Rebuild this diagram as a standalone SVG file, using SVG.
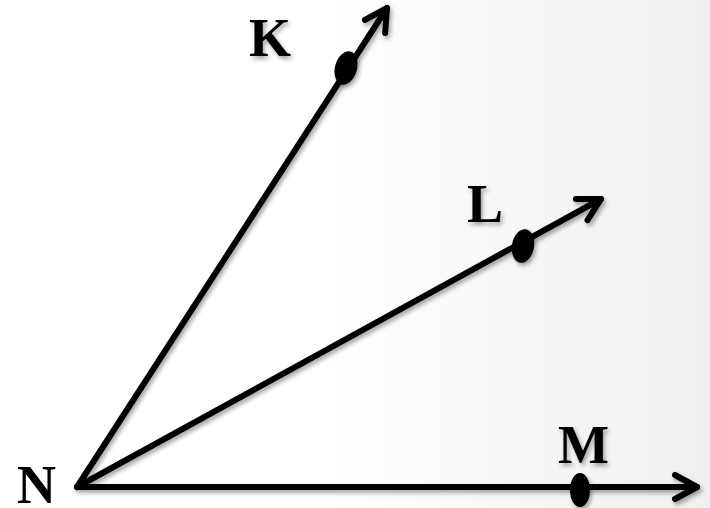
<svg xmlns="http://www.w3.org/2000/svg" width="710" height="508" viewBox="0 0 710 508">
  <defs>
    <linearGradient id="bg" x1="0" y1="0" x2="1" y2="0">
      <stop offset="0.45" stop-color="#ffffff"/>
      <stop offset="1" stop-color="#efefef"/>
    </linearGradient>
    <filter id="sh" x="-10%" y="-10%" width="130%" height="130%">
      <feDropShadow dx="2" dy="3" stdDeviation="2" flood-color="#000" flood-opacity="0.35"/>
    </filter>
    <marker id="arrow" markerUnits="userSpaceOnUse" markerWidth="40" markerHeight="40" viewBox="-30 -20 40 40" refX="0" refY="0" orient="auto">
      <path d="M -22,-12 L 0,0 L -22,12" fill="none" stroke="#000" stroke-width="6" stroke-linecap="round" stroke-linejoin="round"/>
    </marker>
    <style>
      .ray { stroke: #000; stroke-width: 6; fill: none; marker-end: url(#arrow); stroke-linecap: round; }
      .dot { fill: #000; }
      .lbl { font-family: "Liberation Serif", "Times New Roman", serif; font-weight: bold; font-size: 54px; fill: #000; }
    </style>
  </defs>
  <rect x="0" y="0" width="710" height="508" fill="url(#bg)"/>
  <g id="connectors" filter="url(#sh)">
    <line id="ray-NK" class="ray" x1="77" y1="487" x2="387" y2="8"/>
    <line id="ray-NL" class="ray" x1="77" y1="487" x2="601" y2="199"/>
    <line id="ray-NM" class="ray" x1="77" y1="487" x2="697" y2="487"/>
  </g>
  <g id="node-K" filter="url(#sh)">
    <ellipse class="dot" cx="346" cy="68" rx="11" ry="17" transform="rotate(15 346 68)"/>
    <text class="lbl" x="249" y="56">K</text>
  </g>
  <g id="node-L" filter="url(#sh)">
    <ellipse class="dot" cx="523" cy="246" rx="11" ry="17" transform="rotate(10 523 246)"/>
    <text class="lbl" x="467" y="222">L</text>
  </g>
  <g id="node-M" filter="url(#sh)">
    <ellipse class="dot" cx="580" cy="490" rx="10" ry="17"/>
    <text class="lbl" x="558" y="463">M</text>
  </g>
  <g id="node-N">
    <text class="lbl" x="17" y="503">N</text>
  </g>
</svg>
